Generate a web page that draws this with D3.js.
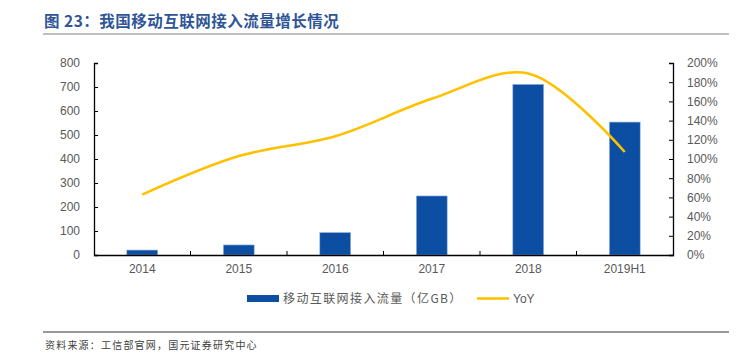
<!DOCTYPE html>
<html><head><meta charset="utf-8">
<script src="https://cdn.jsdelivr.net/npm/d3@7"></script>
<style>
html,body{margin:0;padding:0;background:#fff;}
svg{display:block;}
</style></head>
<body>
<svg id="c" width="742" height="356"></svg>
<script>
const categories = ["2014","2015","2016","2017","2018","2019H1"];
const traffic = [20.6, 41.9, 93.6, 246, 711.1, 553.9];
const yoy = [62.9, 103.0, 123.7, 162.7, 189.1, 107.3];
const leftTicks = [0,100,200,300,400,500,600,700,800];
const rightTicks = [0,20,40,60,80,100,120,140,160,180,200];
const title = "图 23：我国移动互联网接入流量增长情况";
const source = "资料来源：工信部官网，国元证券研究中心";
const legendBar = "移动互联网接入流量（亿GB）";
const legendLine = "YoY";

const svg = d3.select("#c");
const font = "Arial, 'Liberation Sans', 'Noto Sans CJK SC', sans-serif";
const cjk = "'Noto Sans CJK SC', sans-serif";

// Title
svg.append("text").attr("x",44).attr("y",27).attr("fill","#2F5597")
  .attr("font-family",cjk).attr("font-weight","bold").attr("font-size",15.5)
  .attr("letter-spacing",0.5)
  .text(title);
svg.append("line").attr("x1",43).attr("x2",729).attr("y1",34).attr("y2",34)
  .attr("stroke","#7F7F7F").attr("stroke-width",1);

const x0 = 94, x1 = 673, yTop = 63, yBot = 255;
const x = d3.scaleBand().domain(categories).range([x0,x1]).paddingInner(0.68).paddingOuter(0.34);
const xb = d3.scaleBand().domain(categories).range([x0,x1]);
const yL = d3.scaleLinear().domain([0,800]).range([yBot,yTop]);
const yR = d3.scaleLinear().domain([0,200]).range([yBot,yTop]);

// Bars
svg.append("g").selectAll("rect").data(traffic).join("rect")
  .attr("x",(d,i)=>x(categories[i]))
  .attr("y",d=>yL(d))
  .attr("width",x.bandwidth())
  .attr("height",d=>yBot-yL(d))
  .attr("fill","#0B4EA2")
  .attr("stroke","#9DB7DA").attr("stroke-width",0.6);

// Left axis
const gL = svg.append("g").attr("transform",`translate(${x0},0)`)
  .call(d3.axisLeft(yL).tickValues(leftTicks).tickSize(-4).tickPadding(14));
// Right axis
const gR = svg.append("g").attr("transform",`translate(${x1},0)`)
  .call(d3.axisRight(yR).tickValues(rightTicks).tickSize(-4).tickPadding(14).tickFormat(d=>d+"%"));
[gL,gR].forEach(g=>{
  g.select(".domain").attr("stroke","#000").attr("stroke-width",1.3);
  g.selectAll(".tick line").attr("stroke","#000");
  g.selectAll(".tick text").attr("fill","#595959").attr("font-size",12).attr("font-family",font);
});
// X axis
const gX = svg.append("g").attr("transform",`translate(0,${yBot})`)
  .call(d3.axisBottom(xb).tickSize(0).tickPadding(9));
gX.select(".domain").attr("stroke","#000").attr("stroke-width",1.3);
gX.selectAll(".tick text").attr("fill","#595959").attr("font-size",12).attr("font-family",font);
// category boundary ticks (inward)
gX.append("g").selectAll("line").data(categories.slice(1)).join("line")
  .attr("x1",d=>xb(d)).attr("x2",d=>xb(d)).attr("y1",0).attr("y2",-4)
  .attr("stroke","#000");

// YoY line
const line = d3.line()
  .x((d,i)=>xb(categories[i])+xb.bandwidth()/2)
  .y(d=>yR(d))
  .curve(d3.curveCatmullRom.alpha(0.5));
svg.append("path").datum(yoy).attr("d",line)
  .attr("fill","none").attr("stroke","#FFC000").attr("stroke-width",2.6);

// Legend
svg.append("rect").attr("x",247).attr("y",295).attr("width",32).attr("height",7).attr("fill","#0B4EA2");
svg.append("text").attr("x",283).attr("y",303).attr("fill","#595959")
  .attr("font-family",cjk).attr("font-size",12).attr("letter-spacing",1.4).text(legendBar);
svg.append("line").attr("x1",477).attr("x2",509).attr("y1",298.5).attr("y2",298.5)
  .attr("stroke","#FFC000").attr("stroke-width",2.6);
svg.append("text").attr("x",513).attr("y",303).attr("fill","#595959")
  .attr("font-family",font).attr("font-size",12).text(legendLine);

// Footer
svg.append("line").attr("x1",43).attr("x2",729).attr("y1",332).attr("y2",332)
  .attr("stroke","#333").attr("stroke-width",1);
svg.append("text").attr("x",45).attr("y",349).attr("fill","#404040")
  .attr("font-family",cjk).attr("font-size",10).attr("letter-spacing",1.2).text(source);
</script>
</body></html>
